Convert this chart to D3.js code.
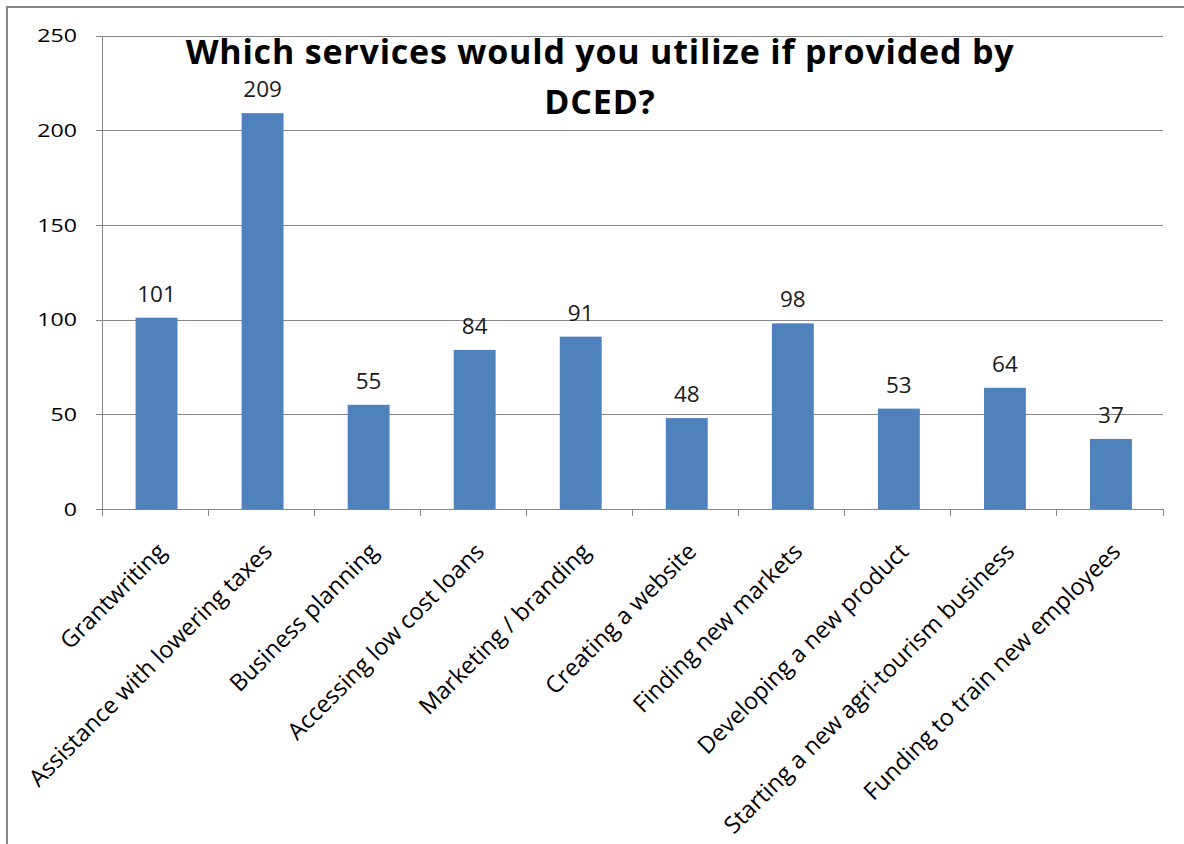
<!DOCTYPE html>
<html>
<head>
<meta charset="utf-8">
<script src="https://cdn.jsdelivr.net/npm/d3@7"></script>
<style>
  html, body { margin: 0; padding: 0; background: #fff; }
  svg { display: block; }
</style>
</head>
<body>
<svg id="chart" width="1184" height="844"></svg>
<script>
// Survey responses: services respondents would use if DCED provided them
const categories = [
  "Grantwriting",
  "Assistance with lowering taxes",
  "Business planning",
  "Accessing low cost loans",
  "Marketing / branding",
  "Creating a website",
  "Finding new markets",
  "Developing a new product",
  "Starting a new agri-tourism business",
  "Funding to train new employees"
];
const values = [101, 209, 55, 84, 91, 48, 98, 53, 64, 37];
const yTicks = [0, 50, 100, 150, 200, 250];
const titleLines = ["Which services would you utilize if provided by", "DCED?"];

const svg = d3.select("#chart");
const font = "'Open Sans', 'Noto Sans', sans-serif";

// Outer chart frame (runs off the right and bottom edges)
svg.append("rect")
  .attr("x", 7).attr("y", 7)
  .attr("width", 1400).attr("height", 1200)
  .attr("fill", "#fff")
  .attr("stroke", "#868686")
  .attr("stroke-width", 2);

const plot = { left: 102.5, right: 1163, top: 35.5, bottom: 509 };

const x = d3.scaleBand()
  .domain(categories)
  .range([plot.left, plot.right])
  .paddingInner(0)
  .paddingOuter(0);

const y = d3.scaleLinear()
  .domain([0, 250])
  .range([plot.bottom, plot.top]);

const barW = x.bandwidth() * 0.395;

// Horizontal gridlines, extended a few pixels left of the axis as ticks
const gy = svg.append("g")
  .attr("transform", `translate(${plot.right},0)`)
  .call(d3.axisRight(y).tickValues(yTicks).tickSize(-(plot.right - plot.left + 7)).tickFormat(""));
gy.select(".domain").remove();
gy.selectAll(".tick line")
  .attr("stroke", "#868686")
  .attr("stroke-width", 1)
  .attr("shape-rendering", "crispEdges");

// Y tick labels
svg.append("g")
  .selectAll("text")
  .data(yTicks)
  .join("text")
  .attr("transform", d => `translate(77,${y(d)}) scale(1.25,1)`)
  .attr("text-anchor", "end")
  .attr("dy", "0.36em")
  .attr("font-family", font)
  .attr("font-size", 18.5)
  .attr("fill", "#000")
  .text(d => d);

// Vertical axis line
svg.append("line")
  .attr("x1", plot.left).attr("x2", plot.left)
  .attr("y1", plot.top).attr("y2", plot.bottom)
  .attr("stroke", "#868686")
  .attr("shape-rendering", "crispEdges");

// Bars
svg.append("g")
  .selectAll("rect")
  .data(values)
  .join("rect")
  .attr("x", (d, i) => x(categories[i]) + x.bandwidth() / 2 - barW / 2 + 1)
  .attr("y", d => y(d))
  .attr("width", barW)
  .attr("height", d => y(0) - y(d))
  .attr("fill", "#4F81BD");

// X axis with ticks at category boundaries
const boundaries = categories.map(c => x(c)).concat([plot.right]);
const gx = svg.append("g");
gx.append("line")
  .attr("x1", plot.left).attr("x2", plot.right)
  .attr("y1", plot.bottom).attr("y2", plot.bottom)
  .attr("stroke", "#868686")
  .attr("shape-rendering", "crispEdges");
gx.selectAll("line.tick")
  .data(boundaries)
  .join("line")
  .attr("class", "tick")
  .attr("x1", d => d).attr("x2", d => d)
  .attr("y1", plot.bottom).attr("y2", plot.bottom + 7)
  .attr("stroke", "#868686")
  .attr("shape-rendering", "crispEdges");

// Rotated category labels
svg.append("g")
  .selectAll("text")
  .data(categories)
  .join("text")
  .attr("transform", d => `translate(${x(d) + x.bandwidth() / 2 + 12},553) rotate(-45)`)
  .attr("text-anchor", "end")
  .attr("font-family", font)
  .attr("font-size", 23.5)
  .attr("fill", "#000")
  .text(d => d);

// Value labels above bars
svg.append("g")
  .selectAll("text")
  .data(values)
  .join("text")
  .attr("x", (d, i) => x(categories[i]) + x.bandwidth() / 2 + 1)
  .attr("y", d => y(d) - 16)
  .attr("text-anchor", "middle")
  .attr("font-family", font)
  .attr("font-size", 22.5)
  .attr("fill", "#1a1a1a")
  .text(d => d);

// Title
svg.append("g")
  .selectAll("text")
  .data(titleLines)
  .join("text")
  .attr("x", 600)
  .attr("y", (d, i) => 64 + i * 50)
  .attr("text-anchor", "middle")
  .attr("font-family", font)
  .attr("font-weight", "bold")
  .attr("font-size", 34)
  .attr("letter-spacing", 0.8)
  .attr("fill", "#000")
  .text(d => d);
</script>
</body>
</html>
